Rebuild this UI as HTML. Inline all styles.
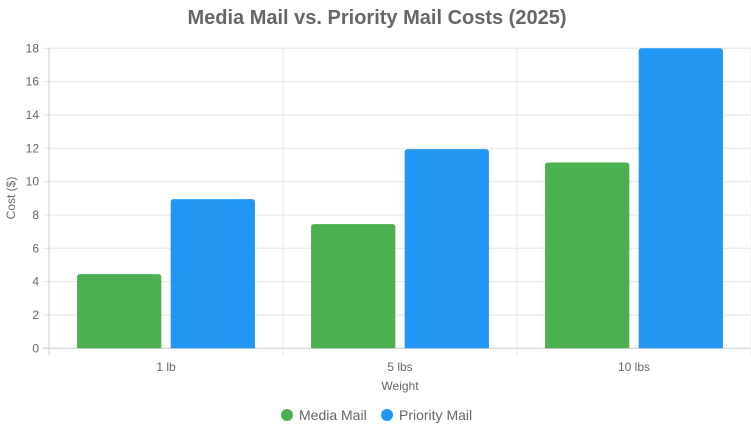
<!DOCTYPE html>
<html><head><meta charset="utf-8"><style>
body{margin:0;background:#fff;font-family:"Liberation Sans",Arial,sans-serif;}
</style></head><body>
<svg id="c" width="751" height="433" xmlns="http://www.w3.org/2000/svg"></svg>
<script>
const categories=["1 lb","5 lbs","10 lbs"];
const mediaMail=[4.45,7.45,11.15];
const priorityMail=[8.95,11.95,18];
const yTicks=[0,2,4,6,8,10,12,14,16,18];
const svg=document.getElementById('c');
const NS="http://www.w3.org/2000/svg";
const L=49,R=751,T=48.3,B=348.3,YMAX=18;
const y=v=>B-(v/YMAX)*(B-T);
const cw=(R-L)/categories.length;
function mk(tag,attrs,name,text){const e=document.createElementNS(NS,tag);for(const k in attrs)e.setAttribute(k,attrs[k]);


if(text!==undefined)e.textContent=text;svg.appendChild(e);return e;}
mk('text',{x:377,y:24,'text-anchor':'middle','font-size':20,'font-weight':'bold',fill:'#666'},'chart-title','Media Mail vs. Priority Mail Costs (2025)');
yTicks.forEach(t=>{mk('line',{x1:L-6,x2:R,y1:y(t),y2:y(t),stroke:t===0?'#ccc':'#e5e5e5','stroke-width':1},'y-gridline');
mk('text',{x:L-10,y:y(t)+4,'text-anchor':'end','font-size':12,fill:'#666'},'y-tick-label',String(t));});
for(let i=0;i<=categories.length;i++){mk('line',{x1:L+i*cw,x2:L+i*cw,y1:T,y2:B+7,stroke:i===0?'#ccc':'#e5e5e5'},'x-gridline');}
categories.forEach((c,i)=>{const cx=L+cw*(i+0.5);const slot=cw*0.8/2;const bw=slot*0.9;
[[mediaMail,'#4caf50','bar-media-mail'],[priorityMail,'#2196f3','bar-priority-mail']].forEach(([arr,col,nm],j)=>{
const x0=cx-cw*0.4+slot*j+(slot-bw)/2;const yt=y(arr[i]);
mk('path',{d:`M${x0},${B} V${yt+3} Q${x0},${yt} ${x0+3},${yt} H${x0+bw-3} Q${x0+bw},${yt} ${x0+bw},${yt+3} V${B} Z`,fill:col},nm);});
mk('text',{x:cx,y:371,'text-anchor':'middle','font-size':12,fill:'#666'},'x-tick-label',c);});
mk('text',{x:400,y:390,'text-anchor':'middle','font-size':12,fill:'#666'},'x-axis-title','Weight');
mk('text',{x:15,y:198,'text-anchor':'middle','font-size':12,fill:'#666',transform:'rotate(-90 15 198)'},'y-axis-title','Cost ($)');
mk('circle',{cx:287,cy:415,r:6,fill:'#4caf50'},'legend-marker-media-mail');
mk('text',{x:299,y:420,'font-size':14,fill:'#666'},'legend-label-media-mail','Media Mail');
mk('circle',{cx:387,cy:415,r:6,fill:'#2196f3'},'legend-marker-priority-mail');
mk('text',{x:399,y:420,'font-size':14,fill:'#666'},'legend-label-priority-mail','Priority Mail');
</script>
</body></html>
